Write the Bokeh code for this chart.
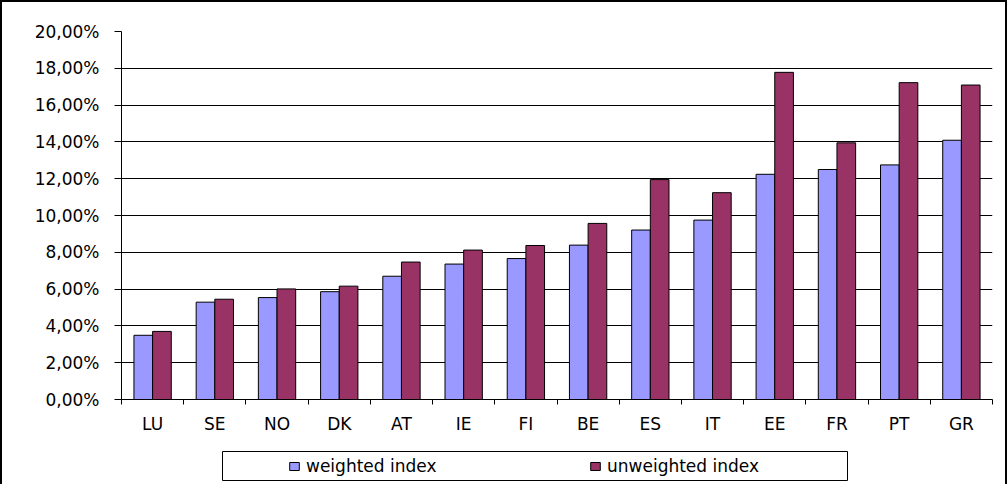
from bokeh.plotting import figure
from bokeh.layouts import column
from bokeh.models import Range1d, FixedTicker, Legend, LegendItem, ColumnDataSource
from bokeh.transform import dodge
from bokeh.embed import file_html
from bokeh.resources import INLINE

countries = ["LU", "SE", "NO", "DK", "AT", "IE", "FI", "BE", "ES", "IT", "EE", "FR", "PT", "GR"]
weighted = [3.49, 5.29, 5.54, 5.86, 6.70, 7.36, 7.66, 8.39, 9.21, 9.75, 12.24, 12.50, 12.75, 14.09]
unweighted = [3.70, 5.45, 6.01, 6.16, 7.47, 8.12, 8.37, 9.57, 11.95, 11.24, 17.78, 13.95, 17.22, 17.09]
y_ticks = [0, 2, 4, 6, 8, 10, 12, 14, 16, 18, 20]
series_names = ["weighted index", "unweighted index"]
colors = ["#9999FF", "#993366"]

FONT = "DejaVu Sans"
FSIZE = "17px"
n = len(countries)
centers = [i + 0.5 for i in range(n)]
source = ColumnDataSource(dict(x=centers, country=countries, w=weighted, u=unweighted))

# ---------------- main chart ----------------
p = figure(frame_width=871, frame_height=368, frame_align=False,
           min_border_left=119, min_border_right=13, min_border_top=29, min_border_bottom=41,
           x_range=Range1d(0, n), y_range=Range1d(0, 20),
           output_backend="svg", toolbar_location=None,
           background_fill_color="white", border_fill_color="white")
p.outline_line_color = None

bw = 0.3
r1 = p.vbar(x=dodge("x", -bw / 2, range=p.x_range), top="w", width=bw, bottom=0, source=source,
            fill_color=colors[0], line_color="black", line_width=1)
r2 = p.vbar(x=dodge("x", bw / 2, range=p.x_range), top="u", width=bw, bottom=0, source=source,
            fill_color=colors[1], line_color="black", line_width=1)

xa = p.xaxis[0]
xa.ticker = FixedTicker(ticks=centers, minor_ticks=list(range(n + 1)))
xa.major_label_overrides = {c: lab for c, lab in zip(centers, countries)}
xa.major_tick_out = 0
xa.major_tick_in = 0
xa.minor_tick_out = 5
xa.minor_tick_in = 0
xa.minor_tick_line_color = "black"
xa.axis_line_color = "black"
xa.major_label_standoff = 9
xa.major_label_text_font = FONT
xa.major_label_text_font_size = FSIZE
xa.major_label_text_color = "black"

ya = p.yaxis[0]
ya.ticker = FixedTicker(ticks=y_ticks)
ya.major_label_overrides = {t: f"{t:.2f}".replace(".", ",") + "%" for t in y_ticks}
ya.major_tick_out = 7
ya.major_tick_in = 0
ya.major_tick_line_color = "black"
ya.minor_tick_line_color = None
ya.axis_line_color = "black"
ya.major_label_standoff = 15
ya.major_label_text_font = FONT
ya.major_label_text_font_size = FSIZE
ya.major_label_text_color = "black"

p.xgrid.grid_line_color = None
p.ygrid.ticker = FixedTicker(ticks=y_ticks)
p.ygrid.grid_line_color = "black"
p.ygrid.grid_line_width = 1

# ---------------- legend strip ----------------
q = figure(frame_width=625, frame_height=29, frame_align=False,
           min_border_left=220, min_border_right=158, min_border_top=11, min_border_bottom=4,
           x_range=Range1d(0, 1), y_range=Range1d(0, 1),
           x_axis_location=None, y_axis_location=None,
           output_backend="svg", toolbar_location=None,
           background_fill_color="white", border_fill_color="white")
q.xgrid.visible = False
q.ygrid.visible = False
q.outline_line_color = "black"
q.outline_line_width = 1

# legend keys reuse the same data and styles (hidden in this strip)
l1 = q.vbar(x="x", top="w", width=bw, source=source, visible=False,
            fill_color=colors[0], line_color="black", line_width=1)
l2 = q.vbar(x="x", top="u", width=bw, source=source, visible=False,
            fill_color=colors[1], line_color="black", line_width=1)

legend = Legend(items=[LegendItem(label=series_names[0], renderers=[l1]),
                       LegendItem(label=series_names[1], renderers=[l2])],
                orientation="horizontal", location=(66, 4),
                glyph_width=12, glyph_height=10, label_height=20, label_width=283,
                label_standoff=6, spacing=0, padding=0, margin=0,
                border_line_color=None, background_fill_alpha=0,
                inactive_fill_alpha=0,
                label_text_font=FONT, label_text_font_size=FSIZE, label_text_color="black")
q.add_layout(legend, "center")

layout = column(p, q, spacing=0,
                styles={"border-left": "2px solid black", "border-top": "2px solid black",
                        "border-right": "2px solid black"})

open("out.html", "w").write(file_html(layout, INLINE))
